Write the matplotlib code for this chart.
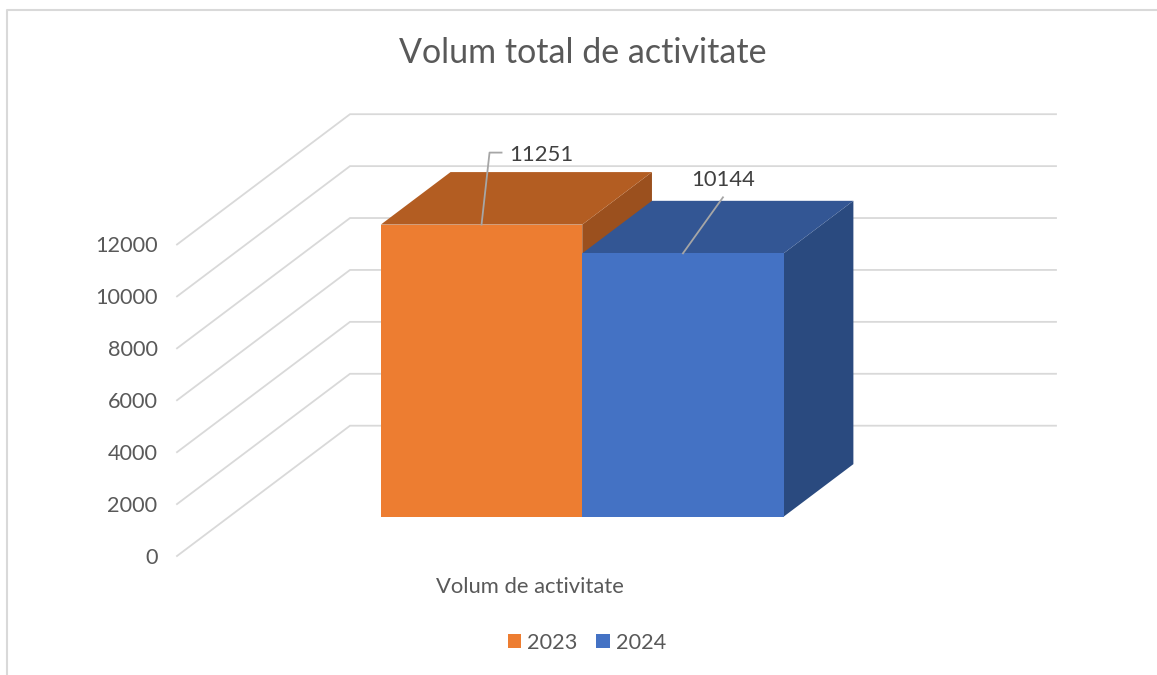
import matplotlib
matplotlib.use("Agg")
import matplotlib.pyplot as plt
from matplotlib.patches import Polygon, Patch
from matplotlib.lines import Line2D

plt.rcParams["font.family"] = ["Lato", "DejaVu Sans"]

# data
title = "Volum total de activitate"
category = "Volum de activitate"
series = ["2023", "2024"]
values = [11251, 10144]
y_ticks = [0, 2000, 4000, 6000, 8000, 10000, 12000]

# styling
text_color = "#595959"
grid_color = "#d9d9d9"
front_colors = ["#ED7D31", "#4472C4"]
top_colors = ["#B35D22", "#335694"]
side_colors = ["#9B501E", "#2A4A7F"]

W, H = 1157, 675
fig = plt.figure(figsize=(W / 100, H / 100), dpi=100)
# front plane of the 3d box (pixels)
left, right, bottom, top = 177, 883, 556, 244.5
ax = fig.add_axes([left / W, 1 - bottom / H, (right - left) / W, (bottom - top) / H])
ax.set_xlim(0, 1)
ax.set_ylim(0, 12000)
for s in ax.spines.values():
    s.set_visible(False)

# pixel -> data helpers
px_x = 1.0 / (right - left)
px_y = 12000.0 / (bottom - top)

# oblique depth (full box depth in data units)
DX = 173 * px_x
DY = 130.3 * px_y


def proj(x, v, d):
    return (x + d * DX, v + d * DY)


# walls: side diagonals and back horizontals
for v in y_ticks:
    pts = [proj(0, v, 0), proj(0, v, 1), proj(1, v, 1)]
    ax.plot([p[0] for p in pts], [p[1] for p in pts], color=grid_color,
            lw=1.3, clip_on=False, zorder=1, solid_joinstyle="miter")

ax.set_yticks(y_ticks)
ax.set_yticklabels([str(t) for t in y_ticks])
ax.tick_params(axis="y", length=0, pad=14, labelsize=15.6, labelcolor=text_color)
ax.set_xticks([0.5])
ax.set_xticklabels([category])
ax.tick_params(axis="x", length=0, pad=15, labelsize=15.8, labelcolor=text_color)

# bars
bar_w = 0.2853
d0, d1 = 0.302, 0.705
center = 0.5
n = len(values)
for i, (val, name) in enumerate(zip(values, series)):
    x0 = center - bar_w * n / 2 + i * bar_w
    x1 = x0 + bar_w
    side = [proj(x1, 0, d0), proj(x1, 0, d1), proj(x1, val, d1), proj(x1, val, d0)]
    topf = [proj(x0, val, d0), proj(x1, val, d0), proj(x1, val, d1), proj(x0, val, d1)]
    front = [proj(x0, 0, d0), proj(x1, 0, d0), proj(x1, val, d0), proj(x0, val, d0)]
    for poly, c in [(side, side_colors[i]), (topf, top_colors[i]), (front, front_colors[i])]:
        ax.add_patch(Polygon(poly, closed=True, facecolor=c, edgecolor="none",
                             clip_on=False, zorder=2 + i))

# data labels with leader lines (offsets in pixels from top front edge)
leaders = [[(0, 0), (8, 72), (20, 72)], [(0, 0), (40, 56)]]
label_pos = [(28, 70, "left"), (40, 73, "center")]
for i, val in enumerate(values):
    x0 = center - bar_w * n / 2 + i * bar_w
    ax_, ay_ = proj(x0 + bar_w / 2, val, d0)
    lx = [ax_ + p[0] * px_x for p in leaders[i]]
    ly = [ay_ + p[1] * px_y for p in leaders[i]]
    ax.plot(lx, ly, color="#a6a6a6", lw=1.3, clip_on=False, zorder=10)
    ox, oy, ha = label_pos[i]
    ax.text(ax_ + ox * px_x, ay_ + oy * px_y, str(val), ha=ha, va="center",
            fontsize=15.8, color="#404040", zorder=11)

fig.text(583 / W, 1 - 53 / H, title, ha="center", va="center",
         fontsize=24.5, color=text_color)

handles = [Patch(facecolor=c, edgecolor="none") for c in front_colors]
fig.legend(handles, series, loc="center", bbox_to_anchor=(587 / W, 1 - 643 / H),
           ncol=2, frameon=False, fontsize=15.6, labelcolor=text_color,
           handlelength=0.62, handleheight=0.62, handletextpad=0.3,
           columnspacing=0.85)

# chart area border (only left and top visible in the reference)
fig.add_artist(Line2D([7 / W, 7 / W, 1.0], [0.0, 1 - 10 / H, 1 - 10 / H],
                      transform=fig.transFigure, color=grid_color, lw=1.5))

fig.savefig("out.png", dpi=100, facecolor="white")
